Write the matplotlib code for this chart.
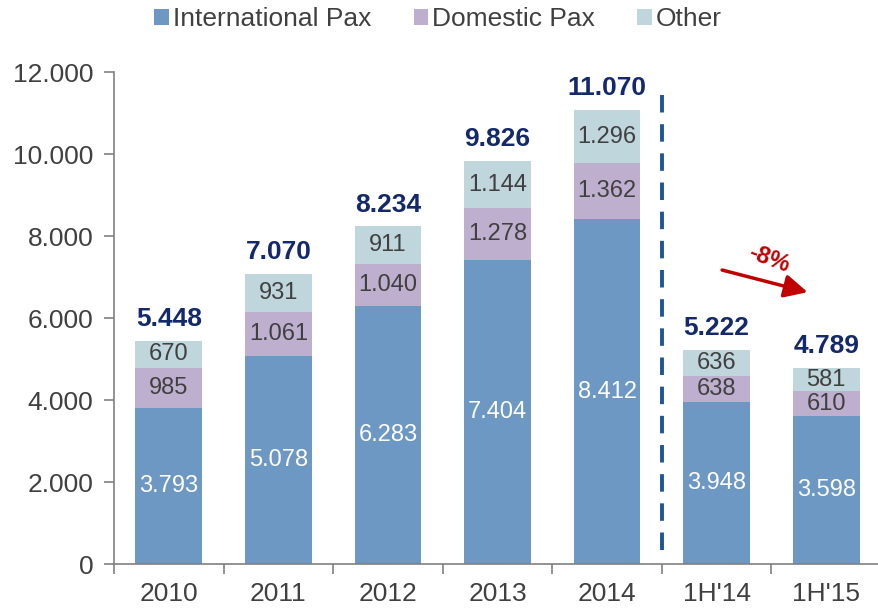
import matplotlib
matplotlib.use('Agg')
from matplotlib import pyplot as plt
import numpy as np

plt.rcParams['font.family'] = ['Liberation Sans', 'DejaVu Sans']

# data
categories = ['2010', '2011', '2012', '2013', '2014', "1H'14", "1H'15"]
intlPax = [3793, 5078, 6283, 7404, 8412, 3948, 3598]
domPax = [985, 1061, 1040, 1278, 1362, 638, 610]
other = [670, 931, 911, 1144, 1296, 636, 581]
totals = [5448, 7070, 8234, 9826, 11070, 5222, 4789]
changeLabel = '-8%'

cIntl = '#6D98C4'
cDom = '#BFAFCF'
cOther = '#BFD6DC'
navy = '#14296B'
grey = '#404040'

fig = plt.figure(figsize=(8.79, 6.08), dpi=100)
ax = fig.add_axes([114 / 879, 44 / 608, 767 / 879, 492 / 608])

x = np.arange(len(categories))
w = 0.61
b1 = ax.bar(x, intlPax, w, color=cIntl, label='International Pax')
b2 = ax.bar(x, domPax, w, bottom=intlPax, color=cDom, label='Domestic Pax')
bot3 = np.array(intlPax) + np.array(domPax)
b3 = ax.bar(x, other, w, bottom=bot3, color=cOther, label='Other')

def fmt(v):
    return '{:,}'.format(v).replace(',', '.')

ax.bar_label(b1, labels=[fmt(v) for v in intlPax], label_type='center', color='white', fontsize=17)
ax.bar_label(b2, labels=[fmt(v) for v in domPax], label_type='center', color=grey, fontsize=17)
ax.bar_label(b3, labels=[fmt(v) for v in other], label_type='center', color=grey, fontsize=17)

for i, t in enumerate(totals):
    ax.annotate(fmt(t), (x[i], t), xytext=(0, 7), textcoords='offset points',
                ha='center', va='bottom', fontsize=19, fontweight='bold', color=navy)

# separator between full years and half years
ax.plot([4.5, 4.5], [340, 11680], color='#1F5597', linewidth=2.8,
        linestyle=(0, (4.5, 3)), clip_on=False)

# change arrow
ax.annotate('', xy=(5.83, 6630), xytext=(5.05, 7170),
            arrowprops=dict(arrowstyle='-|>,head_length=1.0,head_width=0.5',
                            color='#C00000', lw=2.5, mutation_scale=14,
                            shrinkA=0, shrinkB=0))
ax.text(5.48, 7430, changeLabel, rotation=-20, color='#C00000', fontsize=17,
        fontweight='bold', ha='center', va='center')

ax.set_ylim(0, 12000)
ax.set_xlim(-0.5, 6.5)
ax.set_yticks(np.arange(0, 12001, 2000))
ax.set_yticklabels([fmt(v) for v in range(0, 12001, 2000)])
ax.set_xticks(x)
ax.set_xticklabels(categories)
ax.set_xticks(np.arange(-0.5, 7, 1), minor=True)
ax.tick_params(axis='x', which='major', length=0, pad=13)
ax.tick_params(axis='x', which='minor', length=7, color='#808080', width=1.2)
ax.tick_params(axis='y', length=7, color='#808080', width=1.2, pad=8)
ax.tick_params(labelsize=19, labelcolor=grey)
for s in ['top', 'right']:
    ax.spines[s].set_visible(False)
for s in ['left', 'bottom']:
    ax.spines[s].set_color('#808080')
    ax.spines[s].set_linewidth(1.2)

fig.legend(handles=[b1, b2, b3], loc='center', bbox_to_anchor=(438 / 879, 1 - 19 / 608),
           ncol=3, frameon=False, fontsize=19, handlelength=0.55, handleheight=0.55,
           handletextpad=0.15, columnspacing=1.6, labelcolor=grey)

plt.savefig('out.png', dpi=100)
